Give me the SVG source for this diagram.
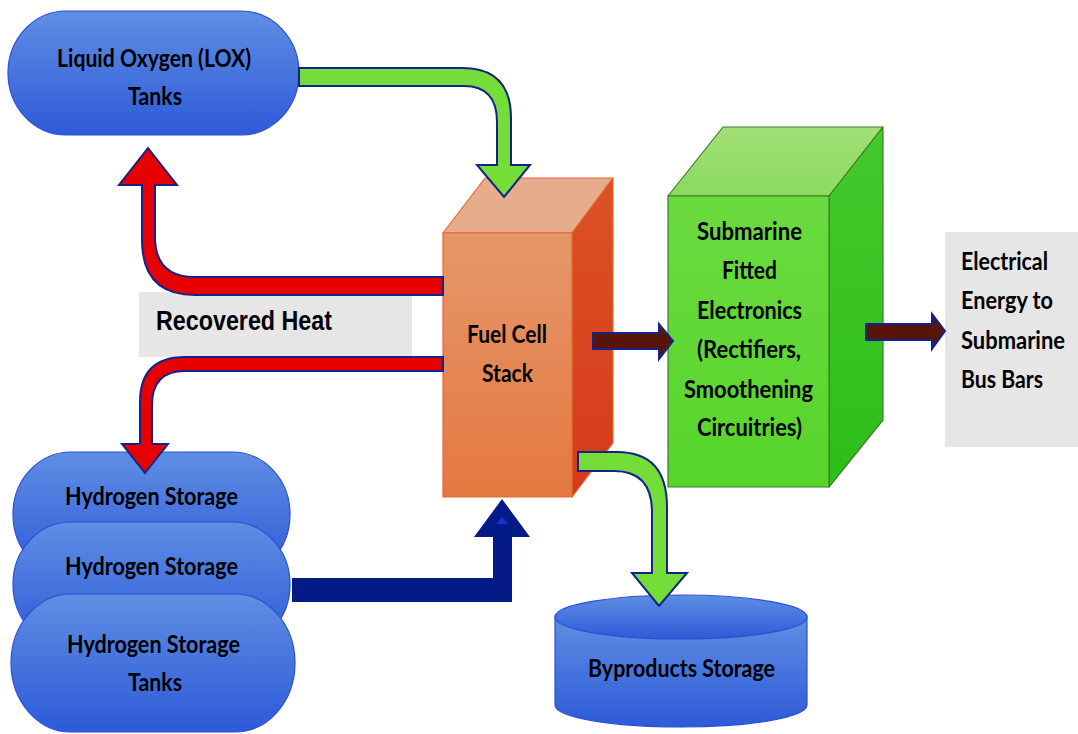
<svg xmlns="http://www.w3.org/2000/svg" width="1078" height="734" viewBox="0 0 1078 734">
<defs>
<linearGradient id="gBlue" x1="0" y1="0" x2="0" y2="1"><stop offset="0" stop-color="#5F8EE3"/><stop offset="1" stop-color="#2D5AD8"/></linearGradient>
<linearGradient id="gFront" x1="0" y1="0" x2="0" y2="1"><stop offset="0" stop-color="#E5976A"/><stop offset="1" stop-color="#E57841"/></linearGradient>
<linearGradient id="gSide" x1="0" y1="0" x2="0" y2="1"><stop offset="0" stop-color="#DB5227"/><stop offset="1" stop-color="#D63A19"/></linearGradient>
<linearGradient id="gGFront" x1="0" y1="0" x2="0" y2="1"><stop offset="0" stop-color="#6BDA40"/><stop offset="1" stop-color="#56D52A"/></linearGradient>
<linearGradient id="gGTop" x1="0" y1="0" x2="0" y2="1"><stop offset="0" stop-color="#A2DF78"/><stop offset="1" stop-color="#8ADB5E"/></linearGradient>
<linearGradient id="gGSide" x1="0" y1="0" x2="0" y2="1"><stop offset="0" stop-color="#45C92C"/><stop offset="1" stop-color="#2DBE1A"/></linearGradient>
</defs>
<style>
.tank{fill:url(#gBlue);stroke:#2A50D2;stroke-width:1.2}
.lbl{font-family:Lato,"Open Sans","Liberation Sans",sans-serif;font-weight:bold;font-size:24px;fill:#000}
.grey{fill:#E6E6E6}
.arr{stroke:#12248C;stroke-width:2;stroke-linejoin:miter}
.green{fill:#74DD37}
.red{fill:#E60000}
.brown{fill:#581408}
.navy{fill:#041A87}
</style>

<g id="lox-tank">
<rect class="tank" x="8" y="11" width="291" height="124" rx="58" ry="62"/>
<text class="lbl" x="57" y="67" textLength="194" lengthAdjust="spacingAndGlyphs">Liquid Oxygen (LOX)</text>
<text class="lbl" x="128" y="105" textLength="54" lengthAdjust="spacingAndGlyphs">Tanks</text>
</g>

<g id="recovered-heat">
<rect class="grey" x="139" y="292" width="273" height="65"/>
<text x="156" y="330" font-family="Liberation Sans,Arial,sans-serif" font-weight="bold" font-size="27" textLength="176" lengthAdjust="spacingAndGlyphs">Recovered Heat</text>
</g>

<g id="hydrogen-tank-1">
<rect class="tank" x="13" y="452" width="277" height="125" rx="58" ry="62"/>
<text class="lbl" x="65" y="505" textLength="173" lengthAdjust="spacingAndGlyphs">Hydrogen Storage</text>
</g>
<g id="hydrogen-tank-2">
<rect class="tank" x="13" y="522" width="277" height="125" rx="58" ry="62"/>
<text class="lbl" x="65" y="575" textLength="173" lengthAdjust="spacingAndGlyphs">Hydrogen Storage</text>
</g>
<g id="hydrogen-tank-3">
<rect class="tank" x="11" y="594" width="284" height="138" rx="60" ry="69"/>
<text class="lbl" x="67" y="653" textLength="173" lengthAdjust="spacingAndGlyphs">Hydrogen Storage</text>
<text class="lbl" x="128" y="691" textLength="54" lengthAdjust="spacingAndGlyphs">Tanks</text>
</g>

<g id="fuel-cell" stroke="#E8652E" stroke-width="1.2" stroke-linejoin="round">
<polygon points="443,233 485,178 613,178 572,233" fill="#E5AD8B"/>
<polygon points="572,233 613,178 613,443 572,497" fill="url(#gSide)"/>
<rect x="443" y="233" width="129" height="264" fill="url(#gFront)"/>
<text class="lbl" x="467" y="343" stroke="none" textLength="80" lengthAdjust="spacingAndGlyphs">Fuel Cell</text>
<text class="lbl" x="482" y="382" stroke="none" textLength="51" lengthAdjust="spacingAndGlyphs">Stack</text>
</g>

<g id="electronics" stroke="#3C7E2A" stroke-width="1.2" stroke-linejoin="round">
<polygon points="668,196 723,127 883,127 829,196" fill="url(#gGTop)"/>
<polygon points="829,196 883,127 883,420 829,487" fill="url(#gGSide)"/>
<rect x="668" y="196" width="161" height="291" fill="url(#gGFront)"/>
<g stroke="none">
<text class="lbl" x="697" y="240" textLength="105" lengthAdjust="spacingAndGlyphs">Submarine</text>
<text class="lbl" x="722" y="279" textLength="55" lengthAdjust="spacingAndGlyphs">Fitted</text>
<text class="lbl" x="697" y="319" textLength="105" lengthAdjust="spacingAndGlyphs">Electronics</text>
<text class="lbl" x="697" y="358" textLength="104" lengthAdjust="spacingAndGlyphs">(Rectifiers,</text>
<text class="lbl" x="684" y="398" textLength="129" lengthAdjust="spacingAndGlyphs">Smoothening</text>
<text class="lbl" x="697" y="436" textLength="105" lengthAdjust="spacingAndGlyphs">Circuitries)</text>
</g>
</g>

<g id="bus-bars">
<rect class="grey" x="945" y="232" width="140" height="215"/>
<text class="lbl" x="961" y="270" textLength="87" lengthAdjust="spacingAndGlyphs">Electrical</text>
<text class="lbl" x="961" y="309" textLength="92" lengthAdjust="spacingAndGlyphs">Energy to</text>
<text class="lbl" x="961" y="349" textLength="104" lengthAdjust="spacingAndGlyphs">Submarine</text>
<text class="lbl" x="961" y="388" textLength="82" lengthAdjust="spacingAndGlyphs">Bus Bars</text>
</g>

<g id="byproducts">
<path class="tank" d="M555,617 V705 A126,22 0 0 0 807,705 V617 Z"/>
<ellipse class="tank" cx="681" cy="617" rx="126" ry="22"/>
<text class="lbl" x="588" y="677" textLength="187" lengthAdjust="spacingAndGlyphs">Byproducts Storage</text>
</g>

<g id="connectors">
<path class="arr green" d="M299,68 H462 Q511,68 511,118 V165 H530 L504,197 L477,165 H497 V122 Q497,86 464,86 H299 Z"/>
<path class="arr red" d="M443,277 H195 Q155,277 155,237 V185 H177 L148,148 L119,185 H142 V240 Q142,295 195,295 H443 Z"/>
<path class="arr red" d="M443,357 H185 Q140,357 140,402 V444 H122 L145,473 L168,444 H152 V405 Q152,371 185,371 H443 Z"/>
<path class="navy" d="M292,578 H493 V537 H474 L502,499 L530,537 H512 V602 H292 Z"/>
<path d="M502,517 L508,524 H496 Z" fill="#1437D0"/>
<path class="arr green" d="M578,452 H617 Q667,452 667,507 V573 H687 L659,606 L632,573 H652 V512 Q652,471 614,471 H578 Z"/>
<path class="arr brown" d="M593,333 H659 V324 L673,341 L659,359 V349 H593 Z"/>
<path class="arr brown" d="M866,324 H932 V314 L945,331 L932,349 V340 H866 Z"/>
</g>
</svg>
